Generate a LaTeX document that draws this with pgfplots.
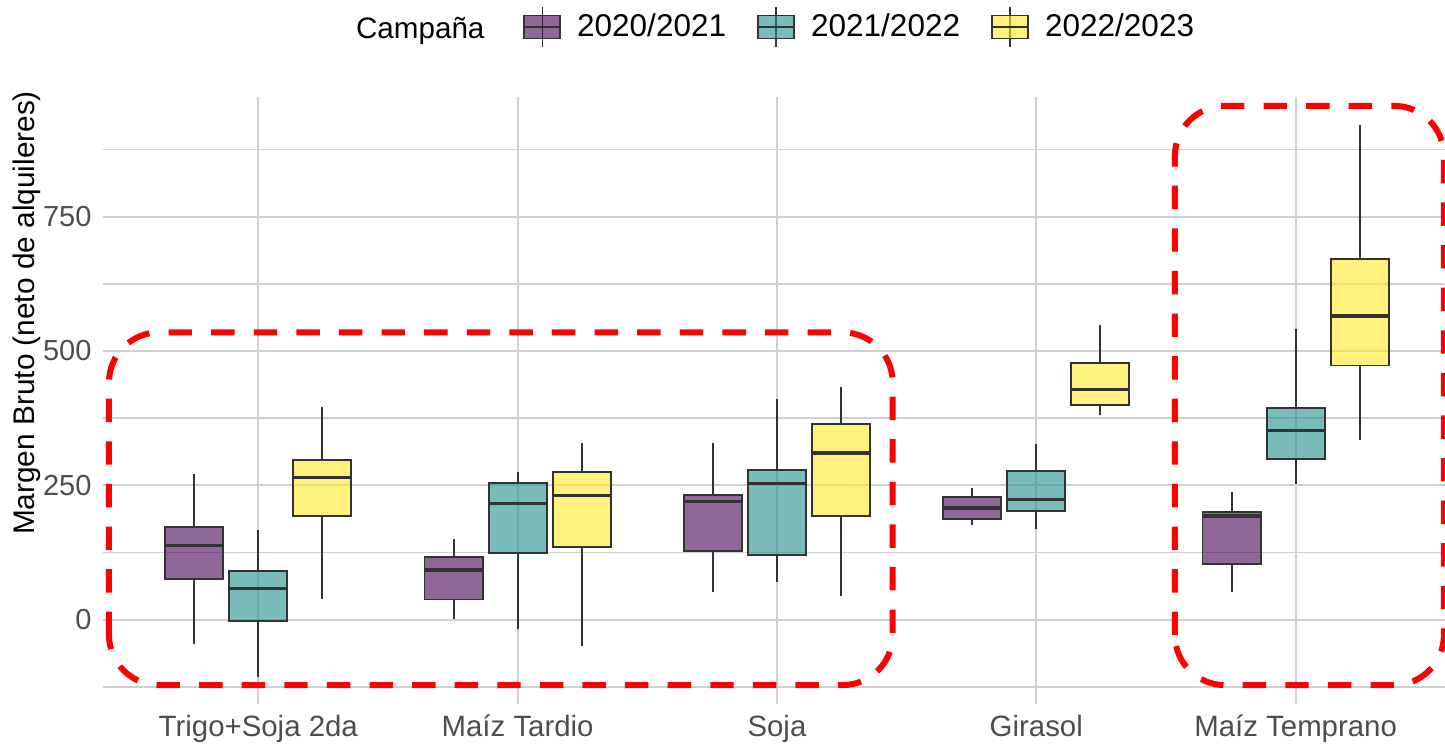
\documentclass[border=0pt]{standalone}
\usepackage{fontspec}
\setmainfont{Liberation Sans}
\usepackage{pgfplots}
\pgfplotsset{compat=1.18}
\usepackage{pgfplotstable}

\definecolor{vA}{HTML}{440154}
\definecolor{vB}{HTML}{21908C}
\definecolor{vC}{HTML}{FDE725}
\definecolor{boxedge}{HTML}{333333}
\definecolor{gridc}{HTML}{D0D0D0}
\definecolor{tickc}{HTML}{4D4D4D}

% rows: Trigo+Soja 2da, Maiz Tardio, Soja, Girasol, Maiz Temprano
% c = box centre, xl/xr = box edges
\pgfplotstableread{
c      xl     xr     lw    lq    med   uq    uw
-0.247 -0.359 -0.135 -46   75    137.5 173   270.6
0.753  0.641  0.865  2     37.5  92    116   150.6
1.753  1.641  1.865  52    127   220   232.5 328
2.753  2.641  2.865  175.6 188   208   228.6 245
3.753  3.641  3.865  52    103.7 192.6 201   236.6
}\cA
\pgfplotstableread{
c      xl     xr     lw    lq    med   uq    uw
0      -0.112 0.112  -106  -3    58    90    166
1      0.888  1.112  -17   124   215.6 254   275
2      1.888  2.112  70    120.6 253   279   411
3      2.888  3.112  168   202.7 223.7 276.7 327
4      3.888  4.112  252   298.5 352.5 394   541.5
}\cB
\pgfplotstableread{
c      xl     xr     lw    lq    med   uq    uw
0.247  0.135  0.359  39    192   265   297   395
1.247  1.135  1.359  -50   135.6 231   274   328
2.247  2.135  2.359  44    192   310   364   433
3.247  3.135  3.359  380   399   428   478   549
4.247  4.135  4.359  335   473   565   671   921
}\cC

\pgfplotsset{
  boxkey/.style={legend image code/.code={
    \draw[draw=boxedge, line width=0.6pt] (8.9pt,-10pt) -- (8.9pt,10pt);
    \draw[##1, draw=boxedge, line width=0.9pt] (0pt,-5.75pt) rectangle (17.85pt,5.75pt);
    \draw[draw=boxedge, line width=1.2pt] (0pt,0pt) -- (17.85pt,0pt);
  }},
}

% #1 table, #2 row, #3 colour
\newcommand\drawbox[3]{%
  \pgfplotstablegetelem{#2}{c}\of#1\edef\bC{\pgfplotsretval}%
  \pgfplotstablegetelem{#2}{xl}\of#1\edef\bXL{\pgfplotsretval}%
  \pgfplotstablegetelem{#2}{xr}\of#1\edef\bXR{\pgfplotsretval}%
  \pgfplotstablegetelem{#2}{lw}\of#1\edef\bLW{\pgfplotsretval}%
  \pgfplotstablegetelem{#2}{lq}\of#1\edef\bLQ{\pgfplotsretval}%
  \pgfplotstablegetelem{#2}{med}\of#1\edef\bMD{\pgfplotsretval}%
  \pgfplotstablegetelem{#2}{uq}\of#1\edef\bUQ{\pgfplotsretval}%
  \pgfplotstablegetelem{#2}{uw}\of#1\edef\bUW{\pgfplotsretval}%
  \edef\boxcmd{%
    \noexpand\addplot[draw=boxedge, line width=1pt, forget plot]
      coordinates {(\bC,\bLW) (\bC,\bLQ)};
    \noexpand\addplot[draw=boxedge, line width=1pt, forget plot]
      coordinates {(\bC,\bUQ) (\bC,\bUW)};
    \noexpand\addplot[draw=boxedge, fill=#3, fill opacity=0.6, line width=0.95pt, forget plot]
      coordinates {(\bXL,\bLQ) (\bXR,\bLQ) (\bXR,\bUQ) (\bXL,\bUQ)} -- cycle;
    \noexpand\addplot[draw=boxedge, line width=1.7pt, forget plot]
      coordinates {(\bXL,\bMD) (\bXR,\bMD)};
  }%
  \boxcmd
}

\begin{document}
\begin{tikzpicture}
\begin{axis}[
  scale only axis, width=671.2pt, height=303.3pt,
  xmin=-0.6, xmax=4.576, ymin=-157, ymax=972,
  clip=false,
  axis line style={draw=none}, tick style={draw=none},
  xtick={0,1,2,3,4},
  xticklabels={Trigo+Soja 2da, Maíz Tardio, Soja, Girasol, Maíz Temprano},
  ytick={0,250,500,750}, minor ytick={-125,125,375,625,875},
  xmajorgrids, ymajorgrids, yminorgrids,
  grid style={draw=gridc, line width=0.9pt},
  minor grid style={draw=gridc, line width=0.9pt},
  /pgf/number format/assume math mode=true,
  yticklabel style={font=\fontsize{14.5}{16}\selectfont, text=tickc, inner sep=0pt, xshift=-5.4pt},
  xticklabel style={font=\fontsize{14.7}{16}\selectfont, text=tickc, inner sep=0pt, yshift=-5.5pt},
  ylabel={Margen Bruto (neto de alquileres)},
  ylabel style={at={(axis description cs:-0.0564,0.6446)}, anchor=center, font=\fontsize{14.9}{16}\selectfont},
  legend columns=-1,
  legend style={at={(axis description cs:0.3129,1.116)}, anchor=west, draw=none, fill=none,
    inner sep=0pt, font=\fontsize{15.75}{18}\selectfont,
    /tikz/every odd column/.style={column sep=6pt},
    /tikz/every even column/.style={column sep=13.5pt}},
]
\addlegendimage{boxkey, fill=vA, fill opacity=0.6}
\addlegendentry{2020/2021}
\addlegendimage{boxkey, fill=vB, fill opacity=0.6}
\addlegendentry{2021/2022}
\addlegendimage{boxkey, fill=vC, fill opacity=0.6}
\addlegendentry{2022/2023}

\pgfplotsinvokeforeach{0,...,4}{
  \drawbox{\cA}{#1}{vA}
  \drawbox{\cB}{#1}{vB}
  \drawbox{\cC}{#1}{vC}
}

\node[anchor=base west, inner sep=0pt, font=\fontsize{14.8}{16}\selectfont] at (axis description cs:0.1885,1.0974) {Campaña};

\draw[red, line width=3pt, dash pattern=on 11.7pt off 9.6pt, rounded corners=25pt]
  (axis cs:-0.5757,-121.9) rectangle (axis cs:2.4461,534.5);
\draw[red, line width=3pt, dash pattern=on 11.7pt off 9.6pt, rounded corners=25pt]
  (axis cs:3.5346,-121.9) rectangle (axis cs:4.5718,956.3);
\end{axis}
\pgfresetboundingbox
\path (-51.35pt,-20pt) rectangle (671.2pt,352pt);
\end{tikzpicture}
\end{document}
